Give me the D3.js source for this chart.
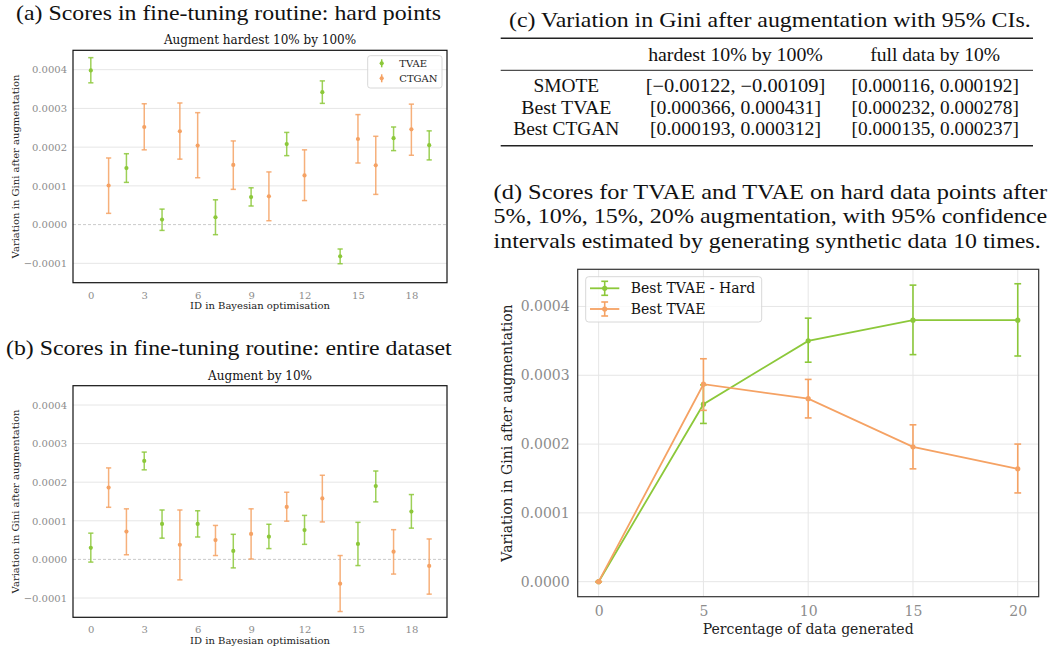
<!DOCTYPE html>
<html><head><meta charset="utf-8">
<script src="https://cdn.jsdelivr.net/npm/d3@7"></script>
<style>body{margin:0;background:#fff}svg{display:block}</style>
</head><body><svg id="c" width="1051" height="648"></svg>
<script>
// ---------- data ----------
const idsA_tvae   = [0, 2, 4, 7, 9, 11, 13, 14, 17, 19];
const a_tvae_mean = [0.000398, 0.000146, 0.000013, 0.000019, 0.000071, 0.000208, 0.000342, -0.000082, 0.000223, 0.000205];
const a_tvae_lo   = [0.000366, 0.000109, -0.000015, -0.000026, 0.000048, 0.000178, 0.000313, -0.000101, 0.000191, 0.000167];
const a_tvae_hi   = [0.000431, 0.000183, 0.000040, 0.000064, 0.000095, 0.000238, 0.000371, -0.000063, 0.000252, 0.000242];
const idsA_ctgan   = [1, 3, 5, 6, 8, 10, 12, 15, 16, 18];
const a_ctgan_mean = [0.000101, 0.000252, 0.000241, 0.000204, 0.000154, 0.000073, 0.000127, 0.000221, 0.000153, 0.000246];
const a_ctgan_lo   = [0.000029, 0.000193, 0.000169, 0.000121, 0.000091, 0.000010, 0.000062, 0.000159, 0.000078, 0.000179];
const a_ctgan_hi   = [0.000172, 0.000312, 0.000314, 0.000289, 0.000216, 0.000136, 0.000193, 0.000284, 0.000228, 0.000311];

const idsB_tvae   = [0, 3, 4, 6, 8, 10, 12, 15, 16, 18];
const b_tvae_mean = [0.000030, 0.000255, 0.000092, 0.000092, 0.000022, 0.000059, 0.000076, 0.000040, 0.000190, 0.000124];
const b_tvae_lo   = [-0.000007, 0.000232, 0.000055, 0.000058, -0.000022, 0.000028, 0.000039, -0.000016, 0.000149, 0.000081];
const b_tvae_hi   = [0.000068, 0.000278, 0.000128, 0.000126, 0.000065, 0.000091, 0.000114, 0.000096, 0.000229, 0.000168];
const idsB_ctgan   = [1, 2, 5, 7, 9, 11, 13, 14, 17, 19];
const b_ctgan_mean = [0.000186, 0.000072, 0.000038, 0.000050, 0.000066, 0.000136, 0.000158, -0.000063, 0.000020, -0.000017];
const b_ctgan_lo   = [0.000135, 0.000012, -0.000053, 0.000010, 0.000001, 0.000099, 0.000097, -0.000135, -0.000038, -0.000090];
const b_ctgan_hi   = [0.000237, 0.000131, 0.000128, 0.000088, 0.000131, 0.000174, 0.000218, 0.000010, 0.000077, 0.000053];

const pctGenerated = [0, 5, 10, 15, 20];
const hard_mean = [0, 0.000258, 0.000350, 0.000380, 0.000380];
const hard_lo   = [0, 0.000230, 0.000319, 0.000330, 0.000328];
const hard_hi   = [0, 0.000286, 0.000383, 0.000431, 0.000433];
const full_mean = [0, 0.000287, 0.000266, 0.000196, 0.000164];
const full_lo   = [0, 0.000249, 0.000238, 0.000164, 0.000129];
const full_hi   = [0, 0.000324, 0.000294, 0.000228, 0.000200];

const scatterXTicks = [0, 3, 6, 9, 12, 15, 18];
const scatterYTicks = [-0.0001, 0, 0.0001, 0.0002, 0.0003, 0.0004];
const lineXTicks = [0, 5, 10, 15, 20];
const lineYTicks = [0, 0.0001, 0.0002, 0.0003, 0.0004];

const tableRows = ["SMOTE", "Best TVAE", "Best CTGAN"];
const tableCols = ["hardest 10% by 100%", "full data by 10%"];
const ciHard = ["[\u22120.00122, \u22120.00109]", "[0.000366, 0.000431]", "[0.000193, 0.000312]"];
const ciFull = ["[0.000116, 0.000192]", "[0.000232, 0.000278]", "[0.000135, 0.000237]"];

// ---------- style ----------
const GREEN = "#8cc83a", ORANGE = "#f5a264";
const MPL = "'DejaVu Serif', serif";
const TEX = "'Liberation Serif', 'Times New Roman', Tinos, serif";
const svg = d3.select("#c");
svg.append("rect").attr("width", 1051).attr("height", 648).attr("fill", "#fff");
const fmt = d3.format(".4f");

function texText(x, y, s, size, len, anchor) {
  const t = svg.append("text").attr("x", x).attr("y", y).text(s)
    .style("font-family", TEX).attr("font-size", size).attr("fill", "#111")
    .attr("text-anchor", anchor || "start");
  if (len) t.attr("textLength", len).attr("lengthAdjust", "spacingAndGlyphs");
  return t;
}

// ---------- scatter panels (a), (b) ----------
function scatterPanel(box, title, series, legend) {
  const x = d3.scaleLinear().domain([-1, 20]).range([box.l, box.r]);
  const y = d3.scaleLinear().domain([-0.00015, 0.00045]).range([box.b, box.t]);
  const g = svg.append("g");
  g.selectAll("line.grid").data(scatterYTicks.filter(v => v !== 0)).join("line")
    .attr("x1", box.l).attr("x2", box.r).attr("y1", d => y(d)).attr("y2", d => y(d))
    .attr("stroke", "#e6e6e6").attr("stroke-width", 1);
  g.append("line").attr("x1", box.l).attr("x2", box.r).attr("y1", y(0)).attr("y2", y(0))
    .attr("stroke", "#bdbdbd").attr("stroke-width", 0.8).attr("stroke-dasharray", "3,2");
  const ax = g.append("g").attr("transform", `translate(0,${box.b})`)
    .call(d3.axisBottom(x).tickValues(scatterXTicks).tickSize(0).tickPadding(9).tickFormat(d3.format("d")));
  const ay = g.append("g").attr("transform", `translate(${box.l},0)`)
    .call(d3.axisLeft(y).tickValues(scatterYTicks).tickSize(0).tickPadding(6).tickFormat(fmt));
  [ax, ay].forEach(a => {
    a.select(".domain").remove();
    a.selectAll("text").style("font-family", MPL).attr("font-size", 10).attr("fill", "#8c8c8c");
  });
  series.forEach(s => {
    const d = s.ids.map((id, i) => ({ id, m: s.mean[i], lo: s.lo[i], hi: s.hi[i] }));
    const sg = g.append("g").attr("stroke", s.color).attr("stroke-width", 1.5).attr("stroke-opacity", 0.85);
    sg.selectAll("line.v").data(d).join("line")
      .attr("x1", p => x(p.id)).attr("x2", p => x(p.id)).attr("y1", p => y(p.lo)).attr("y2", p => y(p.hi));
    sg.selectAll("line.c1").data(d).join("line")
      .attr("x1", p => x(p.id) - 2.6).attr("x2", p => x(p.id) + 2.6).attr("y1", p => y(p.lo)).attr("y2", p => y(p.lo));
    sg.selectAll("line.c2").data(d).join("line")
      .attr("x1", p => x(p.id) - 2.6).attr("x2", p => x(p.id) + 2.6).attr("y1", p => y(p.hi)).attr("y2", p => y(p.hi));
    g.append("g").selectAll("circle").data(d).join("circle")
      .attr("cx", p => x(p.id)).attr("cy", p => y(p.m)).attr("r", 2.1).attr("fill", s.color);
  });
  g.append("rect").attr("x", box.l).attr("y", box.t).attr("width", box.r - box.l).attr("height", box.b - box.t)
    .attr("fill", "none").attr("stroke", "#111").attr("stroke-width", 1.2);
  g.append("text").attr("x", (box.l + box.r) / 2).attr("y", box.t - 6).attr("text-anchor", "middle")
    .style("font-family", MPL).attr("font-size", 12).attr("fill", "#111").text(title);
  g.append("text").attr("x", (box.l + box.r) / 2).attr("y", box.b + 26.5).attr("text-anchor", "middle")
    .style("font-family", MPL).attr("font-size", 10).attr("fill", "#222").text("ID in Bayesian optimisation");
  g.append("text").attr("transform", `translate(15,${(box.t + box.b) / 2}) rotate(-90)`)
    .attr("text-anchor", "middle").attr("dominant-baseline", "central")
    .style("font-family", MPL).attr("font-size", 10).attr("fill", "#222").text("Variation in Gini after augmentation");
  if (legend) {
    const lx = box.r - 79.3, ly = box.t + 5.4;
    g.append("rect").attr("x", lx).attr("y", ly).attr("width", 74.3).attr("height", 32.3).attr("rx", 2.5)
      .attr("fill", "#fff").attr("fill-opacity", 0.8).attr("stroke", "#d4d4d4").attr("stroke-width", 0.9);
    series.forEach((s, i) => {
      const cy = ly + 7.6 + i * 15;
      g.append("line").attr("x1", lx + 14).attr("x2", lx + 14).attr("y1", cy - 4).attr("y2", cy + 4)
        .attr("stroke", s.color).attr("stroke-width", 1.5);
      g.append("circle").attr("cx", lx + 14).attr("cy", cy).attr("r", 2.1).attr("fill", s.color);
      g.append("text").attr("x", lx + 31.6).attr("y", cy).attr("dominant-baseline", "central")
        .style("font-family", MPL).attr("font-size", 10).attr("fill", "#222").text(s.name);
    });
  }
}

scatterPanel({ l: 73, r: 447, t: 50.3, b: 282.7 }, "Augment hardest 10% by 100%", [
  { name: "TVAE", ids: idsA_tvae, mean: a_tvae_mean, lo: a_tvae_lo, hi: a_tvae_hi, color: GREEN },
  { name: "CTGAN", ids: idsA_ctgan, mean: a_ctgan_mean, lo: a_ctgan_lo, hi: a_ctgan_hi, color: ORANGE }
], true);
scatterPanel({ l: 73, r: 447, t: 385.7, b: 617.3 }, "Augment by 10%", [
  { name: "TVAE", ids: idsB_tvae, mean: b_tvae_mean, lo: b_tvae_lo, hi: b_tvae_hi, color: GREEN },
  { name: "CTGAN", ids: idsB_ctgan, mean: b_ctgan_mean, lo: b_ctgan_lo, hi: b_ctgan_hi, color: ORANGE }
], false);

texText(16, 20, "(a) Scores in fine-tuning routine: hard points", 22, 425);
texText(6, 355, "(b) Scores in fine-tuning routine: entire dataset", 22, 445.7);

// ---------- table (c) ----------
texText(509, 27, "(c) Variation in Gini after augmentation with 95% CIs.", 22, 521.7);
[[38.3, 1.6], [70.3, 1.0], [145.7, 1.6]].forEach(([yy, w]) =>
  svg.append("line").attr("x1", 500.7).attr("x2", 1033).attr("y1", yy).attr("y2", yy)
    .attr("stroke", "#222").attr("stroke-width", w));
const colX = [735.5, 935.2], colHeadLen = [174.7, 130];
tableCols.forEach((c, i) => texText(colX[i], 60.5, c, 18, colHeadLen[i], "middle"));
const rowY = [92, 113.5, 135], rowLen = [65.7, 90, 106];
tableRows.forEach((r, i) => {
  texText(566.3, rowY[i], r, 18, rowLen[i], "middle");
  texText(colX[0], rowY[i], ciHard[i], 18, i === 0 ? 179.7 : 171, "middle");
  texText(colX[1], rowY[i], ciFull[i], 18, 167.3, "middle");
});

// ---------- (d) caption ----------
texText(493.6, 198.5, "(d) Scores for TVAE and TVAE on hard data points after", 22, 553.5);
texText(493.6, 223, "5%, 10%, 15%, 20% augmentation, with 95% confidence", 22, 553.5);
texText(493.6, 247.5, "intervals estimated by generating synthetic data 10 times.", 22, 547);

// ---------- line panel (d) ----------
(function () {
  const box = { l: 577.7, r: 1038.7, t: 269.3, b: 596.7 };
  const x = d3.scaleLinear().domain([-1, 21]).range([box.l, box.r]);
  const y = d3.scaleLinear().domain([-0.0000218, 0.000454]).range([box.b, box.t]);
  const g = svg.append("g");
  g.selectAll("line.gy").data(lineYTicks).join("line")
    .attr("x1", box.l).attr("x2", box.r).attr("y1", d => y(d)).attr("y2", d => y(d))
    .attr("stroke", "#e6e6e6").attr("stroke-width", 1);
  g.selectAll("line.gx").data(lineXTicks).join("line")
    .attr("y1", box.t).attr("y2", box.b).attr("x1", d => x(d)).attr("x2", d => x(d))
    .attr("stroke", "#e6e6e6").attr("stroke-width", 1);
  const ax = g.append("g").attr("transform", `translate(0,${box.b})`)
    .call(d3.axisBottom(x).tickValues(lineXTicks).tickSize(0).tickPadding(9).tickFormat(d3.format("d")));
  const ay = g.append("g").attr("transform", `translate(${box.l},0)`)
    .call(d3.axisLeft(y).tickValues(lineYTicks).tickSize(0).tickPadding(8).tickFormat(fmt));
  [ax, ay].forEach(a => {
    a.select(".domain").remove();
    a.selectAll("text").style("font-family", MPL).attr("font-size", 14).attr("fill", "#8c8c8c");
  });
  const series = [
    { name: "Best TVAE - Hard", mean: hard_mean, lo: hard_lo, hi: hard_hi, color: GREEN },
    { name: "Best TVAE", mean: full_mean, lo: full_lo, hi: full_hi, color: ORANGE }
  ];
  const line = d3.line().x(p => x(p.x)).y(p => y(p.m));
  series.forEach(s => {
    const d = pctGenerated.map((v, i) => ({ x: v, m: s.mean[i], lo: s.lo[i], hi: s.hi[i] }));
    const sg = g.append("g");
    sg.append("path").datum(d).attr("d", line).attr("fill", "none").attr("stroke", s.color).attr("stroke-width", 1.8);
    const eg = sg.append("g").attr("stroke", s.color).attr("stroke-width", 1.6);
    eg.selectAll("line.v").data(d).join("line")
      .attr("x1", p => x(p.x)).attr("x2", p => x(p.x)).attr("y1", p => y(p.lo)).attr("y2", p => y(p.hi));
    eg.selectAll("line.c1").data(d).join("line")
      .attr("x1", p => x(p.x) - 3.4).attr("x2", p => x(p.x) + 3.4).attr("y1", p => y(p.lo)).attr("y2", p => y(p.lo));
    eg.selectAll("line.c2").data(d).join("line")
      .attr("x1", p => x(p.x) - 3.4).attr("x2", p => x(p.x) + 3.4).attr("y1", p => y(p.hi)).attr("y2", p => y(p.hi));
    sg.selectAll("circle").data(d).join("circle")
      .attr("cx", p => x(p.x)).attr("cy", p => y(p.m)).attr("r", 2.6).attr("fill", s.color);
  });
  g.append("rect").attr("x", box.l).attr("y", box.t).attr("width", box.r - box.l).attr("height", box.b - box.t)
    .attr("fill", "none").attr("stroke", "#333").attr("stroke-width", 1.2);
  g.append("text").attr("x", (box.l + box.r) / 2).attr("y", 634).attr("text-anchor", "middle")
    .style("font-family", MPL).attr("font-size", 14).attr("fill", "#222").text("Percentage of data generated");
  g.append("text").attr("transform", `translate(507.3,${(box.t + box.b) / 2}) rotate(-90)`)
    .attr("text-anchor", "middle").attr("dominant-baseline", "central")
    .style("font-family", MPL).attr("font-size", 14).attr("fill", "#222").text("Variation in Gini after augmentation");
  const lx = 585.7, ly = 276.7;
  g.append("rect").attr("x", lx).attr("y", ly).attr("width", 176).attr("height", 45.3).attr("rx", 3)
    .attr("fill", "#fff").attr("fill-opacity", 0.8).attr("stroke", "#d4d4d4").attr("stroke-width", 0.9);
  series.forEach((s, i) => {
    const cy = 288.3 + i * 20.7;
    g.append("line").attr("x1", 590).attr("x2", 619.3).attr("y1", cy).attr("y2", cy)
      .attr("stroke", s.color).attr("stroke-width", 1.8);
    g.append("line").attr("x1", 604.7).attr("x2", 604.7).attr("y1", cy - 7).attr("y2", cy + 7)
      .attr("stroke", s.color).attr("stroke-width", 1.6);
    [cy - 7, cy + 7].forEach(cc => g.append("line").attr("x1", 601.3).attr("x2", 608.1).attr("y1", cc).attr("y2", cc)
      .attr("stroke", s.color).attr("stroke-width", 1.6));
    g.append("circle").attr("cx", 604.7).attr("cy", cy).attr("r", 2.6).attr("fill", s.color);
    g.append("text").attr("x", 630.7).attr("y", cy).attr("dominant-baseline", "central")
      .style("font-family", MPL).attr("font-size", 14).attr("fill", "#111").text(s.name);
  });
})();
</script></body></html>
